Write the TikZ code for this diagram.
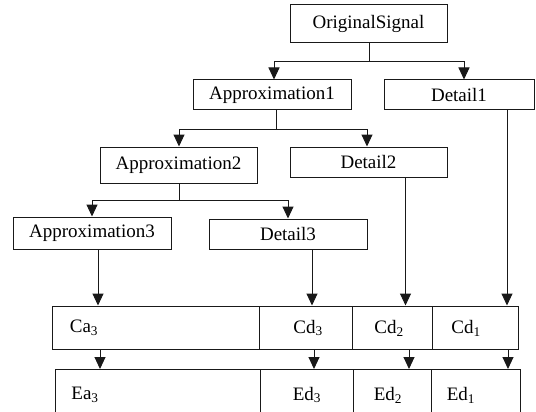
\documentclass[tikz,border=0pt]{standalone}
\usepackage{fontspec}
\setmainfont{Liberation Serif}
\usetikzlibrary{arrows.meta}
\begin{document}
\begin{tikzpicture}[x=1pt,y=-1pt,
  box/.style={draw=black!90,line width=1pt,inner sep=0pt,font=\fontsize{19}{21}\selectfont},
  cell/.style={draw=black!90,line width=1pt,inner sep=0pt},
  lbl/.style={inner sep=0pt,font=\fontsize{19}{21}\selectfont},
  conn/.style={line width=1pt,draw=black!90},
  arr/.style={conn,-{Triangle[length=12pt,width=11pt]}}]
\useasboundingbox (0,0) rectangle (536,412);
% tree boxes
\node[box,minimum width=157pt,minimum height=38pt] (os) at (368.5,24) {OriginalSignal};
\node[box,minimum width=158pt,minimum height=30pt] (a1) at (272,95) {Approximation1};
\node[box,minimum width=150pt,minimum height=30pt] (d1) at (459,95) {Detail1};
\node[box,minimum width=157pt,minimum height=36pt] (a2) at (178.5,165) {Approximation2};
\node[box,minimum width=157pt,minimum height=30pt] (d2) at (368.5,162) {Detail2};
\node[box,minimum width=158pt,minimum height=32pt] (a3) at (92,233) {Approximation3};
\node[box,minimum width=158pt,minimum height=30pt] (d3) at (288,234) {Detail3};
% coefficient row
\node[cell,minimum width=207pt,minimum height=43pt] (ca) at (155.5,327.5) {};
\node[cell,minimum width=93pt,minimum height=43pt] (cd3) at (305.5,327.5) {};
\node[cell,minimum width=80pt,minimum height=43pt] (cd2) at (392,327.5) {};
\node[cell,minimum width=86pt,minimum height=43pt] (cd1) at (475,327.5) {};
\node[lbl] (tca) at (84,328) {Ca\textsubscript{3}};
\node[lbl] (tcd3) at (308,328) {Cd\textsubscript{3}};
\node[lbl] (tcd2) at (389,328) {Cd\textsubscript{2}};
\node[lbl] (tcd1) at (466,328) {Cd\textsubscript{1}};
% encoded row (open at the bottom)
\coordinate (e0) at (55,369);
\coordinate (e1) at (260,369);
\coordinate (e2) at (353,369);
\coordinate (e3) at (431,369);
\coordinate (e4) at (520,369);
\draw[conn] (55,414) -- (e0) -- (e4) -- (520,414);
\draw[conn] (e1) -- (260,414);
\draw[conn] (e2) -- (353,414);
\draw[conn] (e3) -- (431,414);
\node[lbl] (tea) at (85,395) {Ea\textsubscript{3}};
\node[lbl] (ted3) at (307,395) {Ed\textsubscript{3}};
\node[lbl] (ted2) at (388,395) {Ed\textsubscript{2}};
\node[lbl] (ted1) at (461,395) {Ed\textsubscript{1}};
% tree connectors
\coordinate (j1) at (369,62);
\draw[conn] (os.south -| j1) -- (j1);
\draw[arr] (j1) -| ([xshift=2pt]a1.north);
\draw[arr] (j1) -| ([xshift=5pt]d1.north);
\coordinate (j2) at (276,129);
\draw[conn] (a1.south -| j2) -- (j2);
\draw[arr] (j2) -| ([xshift=0.5pt]a2.north);
\draw[arr] (j2) -| ([xshift=-1.5pt]d2.north);
\coordinate (j3) at (179,200);
\draw[conn] (a2.south -| j3) -- (j3);
\draw[arr] (j3) -| (a3.north);
\draw[arr] (j3) -| (d3.north);
% to coefficient row
\draw[arr] ([xshift=6pt]a3.south) -- ([xshift=6pt]a3.south |- ca.north);
\draw[arr] ([xshift=24pt]d3.south) -- ([xshift=24pt]d3.south |- cd3.north);
\draw[arr] ([xshift=37pt]d2.south) -- ([xshift=37pt]d2.south |- cd2.north);
\draw[arr] ([xshift=48pt]d1.south) -- ([xshift=48pt]d1.south |- cd1.north);
% to encoded row
\draw[arr] (ca.south -| 100,0) -- (e0 -| 100,0);
\draw[arr] (cd3.south -| 314,0) -- (e0 -| 314,0);
\draw[arr] (cd2.south -| 409,0) -- (e0 -| 409,0);
\draw[arr] (cd1.south -| 508,0) -- (e0 -| 508,0);
\end{tikzpicture}
\end{document}
